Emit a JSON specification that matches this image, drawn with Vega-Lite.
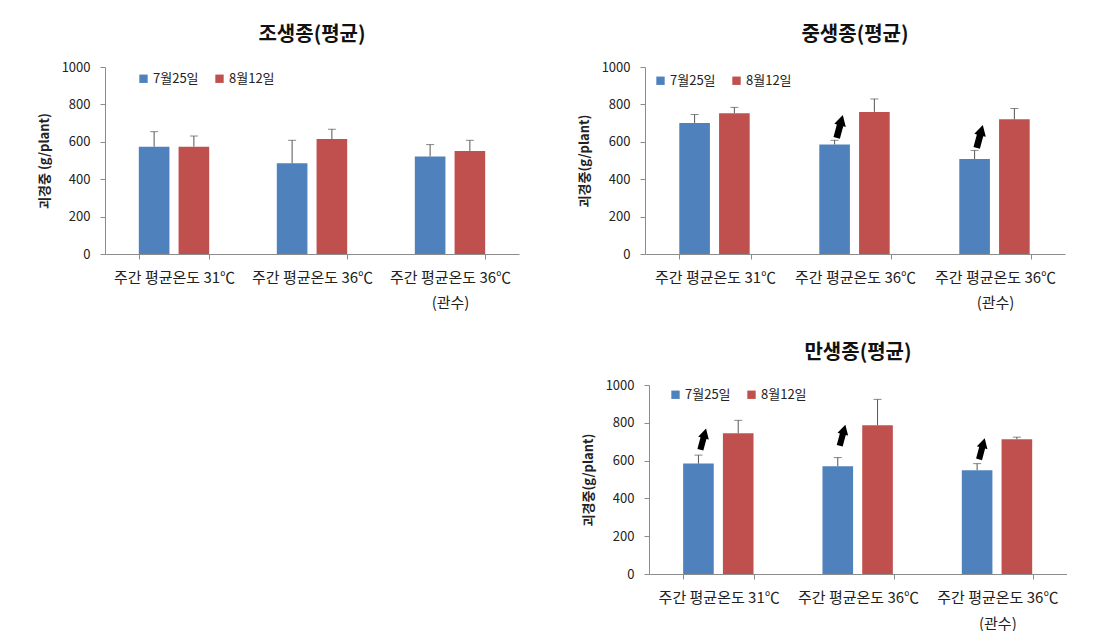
{
  "$schema": "https://vega.github.io/schema/vega-lite/v6.json",
  "background": "white",
  "padding": {"left": 38, "top": 25, "right": 0, "bottom": 0},
  "datasets": {
    "bars": [
      {"panel": "조생종", "cat": "주간 평균온도 31℃", "date": "7월25일", "mean": 574, "upper": 654},
      {"panel": "조생종", "cat": "주간 평균온도 31℃", "date": "8월12일", "mean": 574, "upper": 631},
      {"panel": "조생종", "cat": "주간 평균온도 36℃", "date": "7월25일", "mean": 485, "upper": 608},
      {"panel": "조생종", "cat": "주간 평균온도 36℃", "date": "8월12일", "mean": 615, "upper": 667},
      {"panel": "조생종", "cat": "주간 평균온도 36℃\n(관수)", "date": "7월25일", "mean": 522, "upper": 585},
      {"panel": "조생종", "cat": "주간 평균온도 36℃\n(관수)", "date": "8월12일", "mean": 551, "upper": 608},
      {"panel": "중생종", "cat": "주간 평균온도 31℃", "date": "7월25일", "mean": 701, "upper": 746},
      {"panel": "중생종", "cat": "주간 평균온도 31℃", "date": "8월12일", "mean": 753, "upper": 784},
      {"panel": "중생종", "cat": "주간 평균온도 36℃", "date": "7월25일", "mean": 586, "upper": 608},
      {"panel": "중생종", "cat": "주간 평균온도 36℃", "date": "8월12일", "mean": 760, "upper": 829},
      {"panel": "중생종", "cat": "주간 평균온도 36℃\n(관수)", "date": "7월25일", "mean": 508, "upper": 554},
      {"panel": "중생종", "cat": "주간 평균온도 36℃\n(관수)", "date": "8월12일", "mean": 720, "upper": 778},
      {"panel": "만생종", "cat": "주간 평균온도 31℃", "date": "7월25일", "mean": 584, "upper": 629},
      {"panel": "만생종", "cat": "주간 평균온도 31℃", "date": "8월12일", "mean": 745, "upper": 813},
      {"panel": "만생종", "cat": "주간 평균온도 36℃", "date": "7월25일", "mean": 570, "upper": 616},
      {"panel": "만생종", "cat": "주간 평균온도 36℃", "date": "8월12일", "mean": 787, "upper": 924},
      {"panel": "만생종", "cat": "주간 평균온도 36℃\n(관수)", "date": "7월25일", "mean": 549, "upper": 584},
      {"panel": "만생종", "cat": "주간 평균온도 36℃\n(관수)", "date": "8월12일", "mean": 713, "upper": 724}
    ],
    "arrows": [
      {"panel": "중생종", "cat": "주간 평균온도 36℃", "date": "7월25일", "at": 689},
      {"panel": "중생종", "cat": "주간 평균온도 36℃\n(관수)", "date": "7월25일", "at": 636},
      {"panel": "만생종", "cat": "주간 평균온도 31℃", "date": "7월25일", "at": 720},
      {"panel": "만생종", "cat": "주간 평균온도 36℃", "date": "7월25일", "at": 741},
      {"panel": "만생종", "cat": "주간 평균온도 36℃\n(관수)", "date": "7월25일", "at": 669}
    ]
  },
  "config": {
    "font": "Noto Sans CJK KR",
    "view": {"stroke": null},
    "axis": {
      "grid": false,
      "domainColor": "#8c8c8c",
      "tickColor": "#8c8c8c",
      "labelColor": "#222222",
      "labelFont": "Noto Sans CJK KR",
      "labelFontSize": 13,
      "titleFont": "Noto Sans CJK KR",
      "titleFontSize": 13,
      "titleFontWeight": "bold",
      "titleColor": "#222222",
      "tickSize": 5
    },
    "axisY": {"labelOverlap": false, "labelFontSize": 13, "labelPadding": 10, "titlePadding": 10},
    "title": {"fontSize": 20, "fontWeight": "bold", "color": "#111111", "font": "Noto Sans CJK KR", "offset": 16},
    "legend": {"labelFontSize": 13, "labelColor": "#222222", "labelFont": "Noto Sans CJK KR", "symbolType": "square", "symbolSize": 70, "symbolStrokeWidth": 0, "columnPadding": 14, "labelOffset": 3}
  },
  "resolve": {"scale": {"color": "independent"}, "legend": {"color": "independent"}},
  "spacing": 33,
  "vconcat": [
    {
      "spacing": 59,
      "resolve": {"scale": {"color": "independent"}, "legend": {"color": "independent"}},
      "hconcat": [
        {
          "title": "조생종(평균)",
          "width": 414,
          "height": 187,
          "layer": [
            {
              "data": {"name": "bars"},
              "transform": [{"filter": "datum.panel === '조생종'"}],
              "mark": {"type": "bar"},
              "encoding": {
                "x": {"field": "cat", "type": "nominal", "sort": null, "scale": {"paddingInner": 0.49, "paddingOuter": 0.245}, "axis": {"title": null, "labelAngle": 0, "tickBand": "extent", "labelExpr": "split(datum.label, '\\n')", "labelLineHeight": 25, "labelPadding": 11, "labelFontSize": 15}},
                "xOffset": {"field": "date", "type": "nominal", "scale": {"domain": ["7월25일", "8월12일"], "paddingInner": 0.23}},
                "y": {"field": "mean", "type": "quantitative", "scale": {"domain": [0, 1000]}, "axis": {"title": "괴경중 (g/plant)", "values": [0, 200, 400, 600, 800, 1000], "format": "d", "labelOverlap": false}},
                "color": {"field": "date", "type": "nominal", "scale": {"domain": ["7월25일", "8월12일"], "range": ["#4F81BD", "#C0504D"]}, "legend": {"title": null, "orient": "none", "direction": "horizontal", "legendX": 32, "legendY": 5}}
              }
            },
            {
              "data": {"name": "bars"},
              "transform": [{"filter": "datum.panel === '조생종'"}],
              "mark": {"type": "rule", "color": "#555555", "strokeWidth": 1},
              "encoding": {
                "x": {"field": "cat", "type": "nominal", "sort": null},
                "xOffset": {"field": "date", "type": "nominal"},
                "y": {"field": "mean", "type": "quantitative", "axis": {"title": "괴경중 (g/plant)", "values": [0, 200, 400, 600, 800, 1000], "format": "d", "labelOverlap": false}},
                "y2": {"field": "upper"}
              }
            },
            {
              "data": {"name": "bars"},
              "transform": [{"filter": "datum.panel === '조생종'"}],
              "mark": {"type": "tick", "color": "#555555", "thickness": 1, "size": 8},
              "encoding": {
                "x": {"field": "cat", "type": "nominal", "sort": null},
                "xOffset": {"field": "date", "type": "nominal"},
                "y": {"field": "upper", "type": "quantitative", "axis": {"title": "괴경중 (g/plant)", "values": [0, 200, 400, 600, 800, 1000], "format": "d", "labelOverlap": false}}
              }
            }
          ]
        },
        {
          "title": "중생종(평균)",
          "width": 420,
          "height": 187,
          "layer": [
            {
              "data": {"name": "bars"},
              "transform": [{"filter": "datum.panel === '중생종'"}],
              "mark": {"type": "bar"},
              "encoding": {
                "x": {"field": "cat", "type": "nominal", "sort": null, "scale": {"paddingInner": 0.49, "paddingOuter": 0.245}, "axis": {"title": null, "labelAngle": 0, "tickBand": "extent", "labelExpr": "split(datum.label, '\\n')", "labelLineHeight": 25, "labelPadding": 11, "labelFontSize": 15}},
                "xOffset": {"field": "date", "type": "nominal", "scale": {"domain": ["7월25일", "8월12일"], "paddingInner": 0.23}},
                "y": {"field": "mean", "type": "quantitative", "scale": {"domain": [0, 1000]}, "axis": {"title": "괴경중(g/plant)", "values": [0, 200, 400, 600, 800, 1000], "format": "d", "labelOverlap": false}},
                "color": {"field": "date", "type": "nominal", "scale": {"domain": ["7월25일", "8월12일"], "range": ["#4F81BD", "#C0504D"]}, "legend": {"title": null, "orient": "none", "direction": "horizontal", "legendX": 9, "legendY": 7}}
              }
            },
            {
              "data": {"name": "bars"},
              "transform": [{"filter": "datum.panel === '중생종'"}],
              "mark": {"type": "rule", "color": "#555555", "strokeWidth": 1},
              "encoding": {
                "x": {"field": "cat", "type": "nominal", "sort": null},
                "xOffset": {"field": "date", "type": "nominal"},
                "y": {"field": "mean", "type": "quantitative", "axis": {"title": "괴경중(g/plant)", "values": [0, 200, 400, 600, 800, 1000], "format": "d", "labelOverlap": false}},
                "y2": {"field": "upper"}
              }
            },
            {
              "data": {"name": "bars"},
              "transform": [{"filter": "datum.panel === '중생종'"}],
              "mark": {"type": "tick", "color": "#555555", "thickness": 1, "size": 8},
              "encoding": {
                "x": {"field": "cat", "type": "nominal", "sort": null},
                "xOffset": {"field": "date", "type": "nominal"},
                "y": {"field": "upper", "type": "quantitative", "axis": {"title": "괴경중(g/plant)", "values": [0, 200, 400, 600, 800, 1000], "format": "d", "labelOverlap": false}}
              }
            },
            {
              "data": {"name": "arrows"},
              "transform": [{"filter": "datum.panel === '중생종'"}],
              "mark": {"type": "point", "filled": true, "color": "#000000", "opacity": 1, "size": 560, "angle": 15, "shape": "M0.17,1L0.17,-0.1L-0.05,-0.1L0.45,-1L0.95,-0.1L0.73,-0.1L0.73,1Z"},
              "encoding": {
                "x": {"field": "cat", "type": "nominal", "sort": null},
                "xOffset": {"field": "date", "type": "nominal"},
                "y": {"field": "at", "type": "quantitative", "axis": {"title": "괴경중(g/plant)", "values": [0, 200, 400, 600, 800, 1000], "format": "d", "labelOverlap": false}}
              }
            }
          ]
        }
      ]
    },
    {
      "spacing": 56,
      "resolve": {"scale": {"color": "independent"}, "legend": {"color": "independent"}},
      "hconcat": [
        {
          "width": 421,
          "height": 10,
          "data": {"values": []},
          "mark": "point",
          "encoding": {}
        },
        {
          "title": "만생종(평균)",
          "width": 418,
          "height": 189,
          "layer": [
            {
              "data": {"name": "bars"},
              "transform": [{"filter": "datum.panel === '만생종'"}],
              "mark": {"type": "bar"},
              "encoding": {
                "x": {"field": "cat", "type": "nominal", "sort": null, "scale": {"paddingInner": 0.49, "paddingOuter": 0.245}, "axis": {"title": null, "labelAngle": 0, "tickBand": "extent", "labelExpr": "split(datum.label, '\\n')", "labelLineHeight": 26, "labelPadding": 11, "labelFontSize": 15}},
                "xOffset": {"field": "date", "type": "nominal", "scale": {"domain": ["7월25일", "8월12일"], "paddingInner": 0.23}},
                "y": {"field": "mean", "type": "quantitative", "scale": {"domain": [0, 1000]}, "axis": {"title": "괴경중(g/plant)", "values": [0, 200, 400, 600, 800, 1000], "format": "d", "labelOverlap": false}},
                "color": {"field": "date", "type": "nominal", "scale": {"domain": ["7월25일", "8월12일"], "range": ["#4F81BD", "#C0504D"]}, "legend": {"title": null, "orient": "none", "direction": "horizontal", "legendX": 20, "legendY": 3}}
              }
            },
            {
              "data": {"name": "bars"},
              "transform": [{"filter": "datum.panel === '만생종'"}],
              "mark": {"type": "rule", "color": "#555555", "strokeWidth": 1},
              "encoding": {
                "x": {"field": "cat", "type": "nominal", "sort": null},
                "xOffset": {"field": "date", "type": "nominal"},
                "y": {"field": "mean", "type": "quantitative", "axis": {"title": "괴경중(g/plant)", "values": [0, 200, 400, 600, 800, 1000], "format": "d", "labelOverlap": false}},
                "y2": {"field": "upper"}
              }
            },
            {
              "data": {"name": "bars"},
              "transform": [{"filter": "datum.panel === '만생종'"}],
              "mark": {"type": "tick", "color": "#555555", "thickness": 1, "size": 8},
              "encoding": {
                "x": {"field": "cat", "type": "nominal", "sort": null},
                "xOffset": {"field": "date", "type": "nominal"},
                "y": {"field": "upper", "type": "quantitative", "axis": {"title": "괴경중(g/plant)", "values": [0, 200, 400, 600, 800, 1000], "format": "d", "labelOverlap": false}}
              }
            },
            {
              "data": {"name": "arrows"},
              "transform": [{"filter": "datum.panel === '만생종'"}],
              "mark": {"type": "point", "filled": true, "color": "#000000", "opacity": 1, "size": 480, "angle": 15, "shape": "M0.17,1L0.17,-0.1L-0.05,-0.1L0.45,-1L0.95,-0.1L0.73,-0.1L0.73,1Z"},
              "encoding": {
                "x": {"field": "cat", "type": "nominal", "sort": null},
                "xOffset": {"field": "date", "type": "nominal"},
                "y": {"field": "at", "type": "quantitative", "axis": {"title": "괴경중(g/plant)", "values": [0, 200, 400, 600, 800, 1000], "format": "d", "labelOverlap": false}}
              }
            }
          ]
        }
      ]
    }
  ]
}
